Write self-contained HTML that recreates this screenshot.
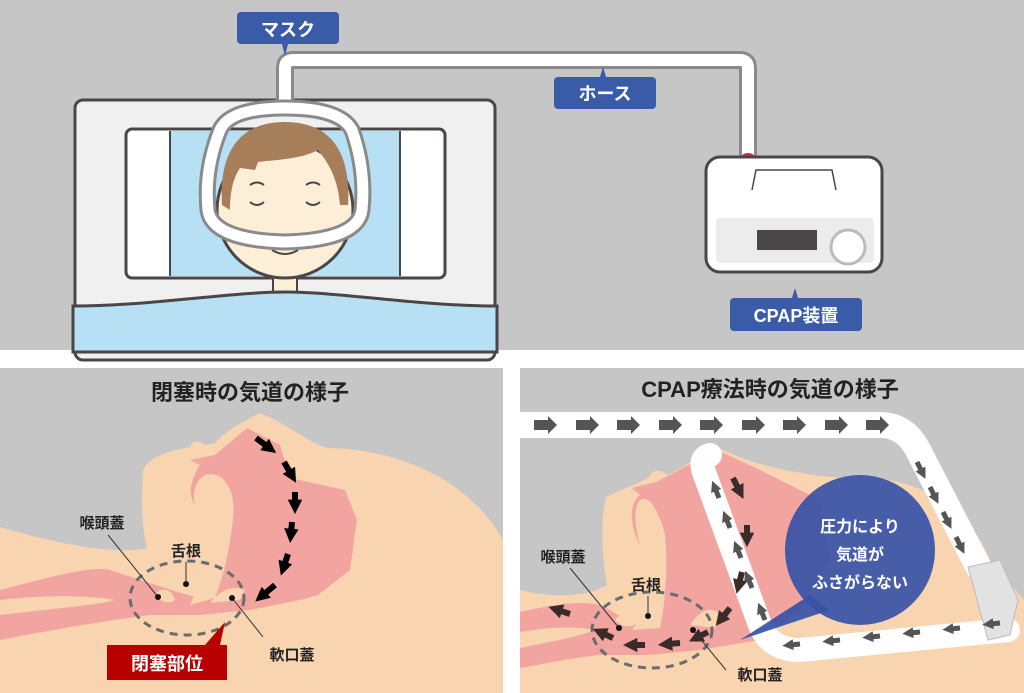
<!DOCTYPE html>
<html><head><meta charset="utf-8"><style>
html,body{margin:0;padding:0;background:#fff}
svg{display:block}
text{font-family:"Liberation Sans","Noto Sans CJK JP",sans-serif;font-weight:bold}
</style></head><body>
<svg width="1024" height="693" viewBox="0 0 1024 693" xmlns="http://www.w3.org/2000/svg">
<defs>
<marker id="ar" viewBox="0 0 10 10" refX="3" refY="5" markerWidth="2.4" markerHeight="2.4" orient="auto"><path d="M0,0L10,5L0,10z" fill="#000"/></marker>
<marker id="ar2" viewBox="0 0 10 10" refX="3" refY="5" markerWidth="2.4" markerHeight="2.4" orient="auto"><path d="M0,0L10,5L0,10z" fill="#3a2a28"/></marker>
<marker id="ar3" viewBox="0 0 10 10" refX="3" refY="5" markerWidth="2.2" markerHeight="2.2" orient="auto"><path d="M0,0L10,5L0,10z" fill="#555"/></marker>
</defs>
<!-- TOP -->
<rect x="0" y="0" width="1024" height="350" fill="#c6c6c6"/>
<rect x="75" y="100" width="420" height="260" rx="8" fill="#f0f0f0" stroke="#4a4646" stroke-width="3"/>
<rect x="126" y="129" width="319" height="149" rx="6" fill="#fff" stroke="#4a4646" stroke-width="3"/>
<rect x="170" y="131" width="230" height="145" fill="#b8e0f5"/>
<line x1="170" y1="131" x2="170" y2="276" stroke="#4a4646" stroke-width="2"/>
<line x1="400" y1="131" x2="400" y2="276" stroke="#4a4646" stroke-width="2"/>
<rect x="273" y="270" width="24" height="25" fill="#fdeed8" stroke="#4a4646" stroke-width="2"/>
<circle cx="285" cy="210" r="68" fill="#fdeed8" stroke="#4a4646" stroke-width="3"/>
<path d="M222,205 C218,140 250,122 285,122 C320,122 352,140 348,205 L340,205 C338,180 330,165 318,150 C300,160 270,160 258,162 L255,170 L240,168 C232,180 230,195 230,210 Z" fill="#a77e5a"/>
<path d="M250,185 q7,-5 14,0 M306,185 q7,-5 14,0 M250,202 q7,6 14,0 M306,202 q7,6 14,0 M272,250 q13,8 26,0" fill="none" stroke="#4a4646" stroke-width="2"/>
<path d="M73,306 C150,306 230,292 285,292 C340,292 420,306 497,306 L497,352 L73,352 Z" fill="#b8e0f5" stroke="#4a4646" stroke-width="3"/>
<!-- hose -->
<path d="M285,110 V68 Q285,60 293,60 H740 Q748,60 748,68 V156" fill="none" stroke="#8a8a8a" stroke-width="18"/>
<path d="M285,110 V68 Q285,60 293,60 H740 Q748,60 748,68 V156" fill="none" stroke="#fff" stroke-width="12"/>
<path d="M220,130 Q230,108 285,108 Q340,108 352,130 Q366,170 362,210 Q358,240 285,242 Q212,240 208,210 Q204,170 220,130 Z" fill="none" stroke="#8a8a8a" stroke-width="17"/>
<path d="M220,130 Q230,108 285,108 Q340,108 352,130 Q366,170 362,210 Q358,240 285,242 Q212,240 208,210 Q204,170 220,130 Z" fill="none" stroke="#fff" stroke-width="11"/>
<ellipse cx="748" cy="156" rx="6" ry="3" fill="#c0303a"/>
<!-- device -->
<rect x="706" y="157" width="176" height="115" rx="14" fill="#fff" stroke="#4a4646" stroke-width="3"/>
<rect x="716" y="218" width="158" height="45" rx="4" fill="#ececec"/>
<path d="M752,190 L756,170 H832 L836,190" fill="none" stroke="#4a4646" stroke-width="1.5"/>
<rect x="757" y="230" width="60" height="20" fill="#4a4646"/>
<circle cx="848" cy="247" r="17" fill="#fff" stroke="#bbb" stroke-width="3"/>
<!-- labels -->
<rect x="237" y="12" width="102" height="32" rx="4" fill="#3a5ba8"/>
<path d="M282,44 L288,44 L285,56 Z" fill="#3a5ba8"/>
<text x="288" y="36" font-size="18" fill="#fff" text-anchor="middle">マスク</text>
<rect x="554" y="77" width="102" height="32" rx="4" fill="#3a5ba8"/>
<path d="M600,77 L606,77 L603,67 Z" fill="#3a5ba8"/>
<text x="605" y="100" font-size="18" fill="#fff" text-anchor="middle">ホース</text>
<rect x="730" y="298" width="132" height="33" rx="4" fill="#3a5ba8"/>
<path d="M792,298 L798,298 L795,288 Z" fill="#3a5ba8"/>
<text x="796" y="322" font-size="18" fill="#fff" text-anchor="middle">CPAP装置</text>

<!-- BOTTOM LEFT -->
<svg x="0" y="368" width="503" height="325" viewBox="0 368 503 325">
<rect x="0" y="368" width="503" height="325" fill="#c6c6c6"/>
<path d="M0,527 C60,545 120,555 147,548 C140,520 142,490 143,470 C150,455 175,450 190,447 C192,440 200,440 205,445 L215,443 C222,435 235,425 260,413 C290,425 310,445 330,448 C400,450 470,480 503,540 L503,693 L0,693 Z" fill="#f8d4b0"/>
<path d="M247,428 L280,445 L290,478 L345,490 L357,520 L350,570 L318,595 L300,600 L250,610 L200,615 L150,615 C110,620 50,630 0,640 L0,615 C40,610 100,605 115,600 C90,595 40,595 0,600 L0,590 C40,580 90,565 110,570 C140,580 170,590 205,600 C215,580 225,560 232,520 C235,490 225,470 205,475 C195,480 192,495 195,505 C188,495 190,480 200,465 L190,460 L215,455 Z" fill="#f2a4a0"/>
<path d="M215,598 C222,580 228,560 233,520 C236,490 226,475 208,476 C198,490 200,505 202,520 C206,555 200,585 190,605 Z" fill="#f8d4b0"/>
<path d="M210,603 C220,590 232,585 245,590 L240,600 Z" fill="#f8d4b0"/>
<path d="M155,595 C162,585 172,590 175,600 C170,605 160,602 155,595 Z" fill="#f8d4b0"/>
<g stroke="#000" stroke-width="6" marker-end="url(#ar)">
<line x1="256" y1="438" x2="268" y2="447"/>
<line x1="284" y1="462" x2="291" y2="474"/>
<line x1="295" y1="492" x2="295" y2="504"/>
<line x1="292" y1="522" x2="291" y2="533"/>
<line x1="288" y1="554" x2="284" y2="566"/>
<line x1="275" y1="585" x2="263" y2="595"/>
</g>
<ellipse cx="187" cy="598" rx="57" ry="37" fill="none" stroke="#6b6b6b" stroke-width="3" stroke-dasharray="8,6"/>
<text x="250" y="400" font-size="22" fill="#222" text-anchor="middle">閉塞時の気道の様子</text>
<text x="102" y="528" font-size="15" fill="#222" text-anchor="middle">喉頭蓋</text>
<text x="186" y="556" font-size="15" fill="#222" text-anchor="middle">舌根</text>
<text x="292" y="660" font-size="15" fill="#222" text-anchor="middle">軟口蓋</text>
<path d="M108,535 L158,597 M186,562 L186,584 M232,598 L263,637" stroke="#333" stroke-width="1"/>
<circle cx="158" cy="597" r="3" fill="#111"/><circle cx="186" cy="584" r="3" fill="#111"/><circle cx="232" cy="598" r="3" fill="#111"/>
<rect x="107" y="645" width="120" height="35" fill="#b80000"/>
<path d="M205,645 L225,622 L220,645 Z" fill="#b80000"/>
<text x="167" y="670" font-size="18" fill="#fff" text-anchor="middle">閉塞部位</text>
</svg>

<!-- BOTTOM RIGHT -->
<svg x="520" y="368" width="504" height="325" viewBox="520 368 504 325">
<rect x="520" y="368" width="504" height="325" fill="#c6c6c6"/>
<path d="M520,590 C560,600 590,595 607,585 C602,560 600,520 606,497 C620,490 635,485 648,478 C652,470 660,468 667,475 C680,470 700,455 717,447 C760,470 830,480 870,478 C930,480 975,520 990,560 L1024,600 L1024,693 L520,693 Z" fill="#f8d4b0"/>
<path d="M717,450 L760,470 L820,500 L830,560 L800,610 L760,640 L700,650 L650,655 L600,655 C570,658 540,665 520,668 L520,648 C560,640 580,636 595,630 C570,625 545,628 520,632 L520,612 C550,605 580,600 600,605 C620,615 640,630 650,628 C660,600 665,570 663,540 C660,510 650,495 640,500 C632,510 636,530 640,545 C630,525 628,505 640,495 L632,488 L656,482 Z" fill="#f2a4a0"/>
<path d="M660,628 C666,600 668,560 665,535 C660,512 652,505 645,510 C640,530 643,560 645,585 C646,605 640,620 632,630 Z" fill="#f8d4b0"/>
<path d="M690,625 C700,610 712,605 720,615 L715,628 Z" fill="#f8d4b0"/>
<path d="M615,620 C622,610 630,615 635,625 C628,628 620,626 615,620 Z" fill="#f8d4b0"/>
<ellipse cx="652" cy="630" rx="60" ry="38" fill="none" stroke="#6b6b6b" stroke-width="3" stroke-dasharray="8,6"/>
<!-- tube -->
<path d="M520,425 H880 Q905,425 918,450 L980,570" fill="none" stroke="#fff" stroke-width="26"/>
<path d="M1008,630 L800,650 Q770,650 760,625 L705,475 Q698,458 710,455" fill="none" stroke="#fff" stroke-width="24" stroke-linecap="round"/>
<path d="M968,567 L1000,560 L1018,600 L1010,635 L988,640 Z" fill="#e2e2e2" stroke="#bbb"/>
<g fill="#555">
<path d="M534,420h14v-4l9,9-9,9v-4h-14z" id="ha"/>
<use href="#ha" x="42"/><use href="#ha" x="83"/><use href="#ha" x="125"/><use href="#ha" x="166"/><use href="#ha" x="208"/><use href="#ha" x="249"/><use href="#ha" x="291"/><use href="#ha" x="332"/>
</g>
<g stroke="#555" stroke-width="5" marker-end="url(#ar3)">
<line x1="917" y1="462" x2="922" y2="472"/>
<line x1="930" y1="487" x2="935" y2="497"/>
<line x1="943" y1="512" x2="948" y2="522"/>
<line x1="956" y1="537" x2="961" y2="547"/>
<line x1="1000" y1="623" x2="990" y2="624"/>
<line x1="960" y1="628" x2="950" y2="629"/>
<line x1="920" y1="632" x2="910" y2="633"/>
<line x1="880" y1="636" x2="870" y2="637"/>
<line x1="840" y1="640" x2="830" y2="641"/>
<line x1="800" y1="644" x2="790" y2="645"/>
<line x1="765" y1="620" x2="761" y2="610"/>
<line x1="752" y1="588" x2="748" y2="578"/>
<line x1="741" y1="558" x2="737" y2="548"/>
<line x1="730" y1="528" x2="726" y2="518"/>
<line x1="719" y1="498" x2="715" y2="488"/>
</g>
<g stroke="#3a2a28" stroke-width="6" marker-end="url(#ar2)">
<line x1="733" y1="478" x2="739" y2="490"/>
<line x1="747" y1="525" x2="747" y2="537"/>
<line x1="742" y1="572" x2="739" y2="584"/>
<line x1="730" y1="608" x2="722" y2="618"/>
<line x1="708" y1="632" x2="698" y2="637"/>
<line x1="680" y1="643" x2="668" y2="644"/>
<line x1="645" y1="645" x2="633" y2="645"/>
<line x1="613" y1="638" x2="602" y2="633"/>
<line x1="570" y1="614" x2="558" y2="610"/>
</g>
<circle cx="860" cy="550" r="75" fill="#3753a6" opacity="0.92"/>
<path d="M810,595 L740,640 L830,610 Z" fill="#3753a6" opacity="0.92"/>
<text x="860" y="532" font-size="16" fill="#fff" text-anchor="middle">圧力により</text>
<text x="860" y="560" font-size="16" fill="#fff" text-anchor="middle">気道が</text>
<text x="860" y="588" font-size="16" fill="#fff" text-anchor="middle">ふさがらない</text>
<text x="770" y="397" font-size="22" fill="#222" text-anchor="middle">CPAP療法時の気道の様子</text>
<text x="563" y="562" font-size="15" fill="#222" text-anchor="middle">喉頭蓋</text>
<text x="646" y="590" font-size="15" fill="#222" text-anchor="middle">舌根</text>
<text x="760" y="680" font-size="15" fill="#222" text-anchor="middle">軟口蓋</text>
<path d="M570,568 L619,628 M648,596 L648,616 M693,630 L726,670" stroke="#333" stroke-width="1"/>
<circle cx="619" cy="628" r="3" fill="#111"/><circle cx="648" cy="616" r="3" fill="#111"/><circle cx="693" cy="630" r="3" fill="#111"/>
</svg>
</svg>
</body></html>
